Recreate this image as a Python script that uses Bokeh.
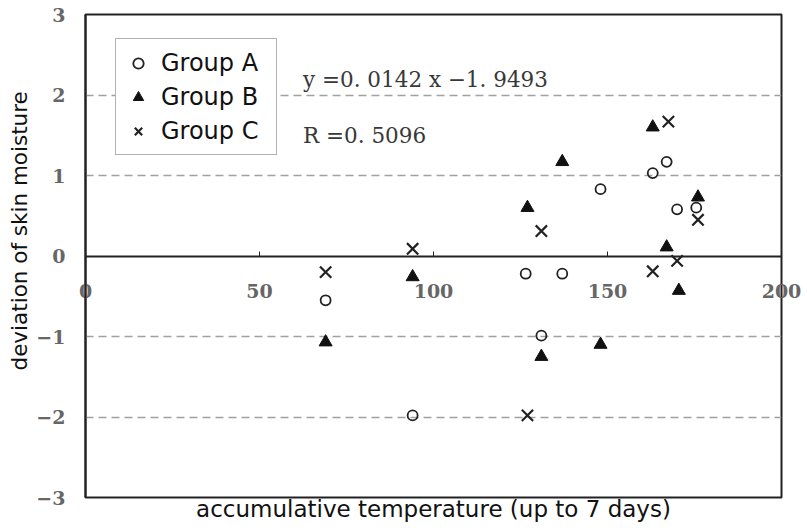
from bokeh.plotting import figure
from bokeh.models import (Range1d, Legend, LegendItem, Label, Title, FixedTicker,
                          LinearAxis)
from bokeh.embed import file_html
from bokeh.resources import INLINE

# ---- data ----
a_x = [69, 94, 126.5, 131, 137, 148, 163, 167, 170, 175.5]
a_y = [-0.55, -1.98, -0.22, -0.99, -0.22, 0.83, 1.03, 1.17, 0.58, 0.60]
b_x = [69, 94, 127, 131, 137, 148, 163, 167, 170.5, 176]
b_y = [-1.07, -0.26, 0.60, -1.25, 1.17, -1.10, 1.60, 0.11, -0.43, 0.73]
c_x = [69, 94, 127, 131, 163, 167.5, 170, 176]
c_y = [-0.20, 0.09, -1.98, 0.31, -0.19, 1.67, -0.06, 0.45]

series_names = ["Group A", "Group B", "Group C"]
x_ticks = [0, 50, 100, 150, 200]
y_ticks = [-3, -2, -1, 0, 1, 2, 3]
grid_ticks = [-2, -1, 1, 2]
equation_text = "y =0. 0142 x \u22121. 9493"
r_text = "R =0. 5096"
x_title = "accumulative temperature (up to 7 days)"
y_title = "deviation of skin moisture"

TICK_FONT = "DejaVu Serif"
TICK_COLOR = "#666666"

p = figure(frame_width=696, frame_height=483, output_backend="svg", toolbar_location=None,
           x_range=Range1d(0, 200), y_range=Range1d(-3, 3),
           min_border_left=85, min_border_right=20, min_border_top=14, min_border_bottom=30)
p.background_fill_color = "white"
p.border_fill_color = "white"
p.outline_line_color = "#222222"
p.outline_line_width = 2

# zero line with inward ticks (x axis fixed at y = 0)
xa = p.xaxis[0]
xa.fixed_location = 0
xa.ticker = FixedTicker(ticks=x_ticks)
xa.axis_line_color = "#222222"
xa.axis_line_width = 2
xa.major_tick_in = 5
xa.major_tick_out = 0
xa.major_tick_line_color = "#222222"
xa.minor_tick_line_color = None
xa.major_label_text_color = None
xa.major_label_text_font_size = "1px"

# second x axis in the bottom panel: carries the tick labels (raised into the
# plot just under the zero line) and the axis title
xb = LinearAxis(ticker=FixedTicker(ticks=x_ticks))
xb.axis_line_color = None
xb.major_tick_line_color = None
xb.minor_tick_line_color = None
xb.major_tick_in = 0
xb.major_tick_out = 0
xb.major_label_standoff = -214
xb.major_label_text_font = TICK_FONT
xb.major_label_text_font_style = "bold"
xb.major_label_text_font_size = "19px"
xb.major_label_text_color = TICK_COLOR
xb.axis_label = x_title
xb.axis_label_text_font = "DejaVu Sans"
xb.axis_label_text_font_style = "normal"
xb.axis_label_text_font_size = "23px"
xb.axis_label_text_color = "#111111"
xb.axis_label_standoff = 195
p.add_layout(xb, "below")

ya = p.yaxis[0]
ya.ticker = FixedTicker(ticks=y_ticks)
ya.axis_line_color = "#222222"
ya.axis_line_width = 2
ya.major_tick_in = 0
ya.major_tick_out = 0
ya.minor_tick_line_color = None
ya.major_label_standoff = 20
ya.major_label_text_font = TICK_FONT
ya.major_label_text_font_style = "bold"
ya.major_label_text_font_size = "19px"
ya.major_label_text_color = TICK_COLOR

p.xgrid.visible = False
p.ygrid.ticker = FixedTicker(ticks=grid_ticks)
p.ygrid.grid_line_color = "#a0a0a0"
p.ygrid.grid_line_dash = "8 5"
p.ygrid.grid_line_width = 1.5

ra = p.scatter(a_x, a_y, marker="circle", size=10, fill_color=None,
               line_color="#222222", line_width=1.8)
rb = p.scatter(b_x, b_y, marker="triangle", size=13, fill_color="#111111",
               line_color="#111111", line_width=1)
rc = p.scatter(c_x, c_y, marker="x", size=16, line_color="#222222", line_width=2.2)

legend = Legend(items=[LegendItem(label=series_names[0], renderers=[ra]),
                       LegendItem(label=series_names[1], renderers=[rb]),
                       LegendItem(label=series_names[2], renderers=[rc])],
                location=(30, 342), orientation="vertical",
                label_text_font="DejaVu Sans", label_text_font_size="24px",
                label_text_color="#111111", label_height=29, label_width=106,
                glyph_height=26, glyph_width=26, label_standoff=10, spacing=5,
                padding=9, margin=0, border_line_color="#666666", border_line_width=1,
                background_fill_color="white", background_fill_alpha=1)
p.add_layout(legend)

p.add_layout(Label(x=62.5, y=2.19, text=equation_text, text_font="DejaVu Serif",
                   text_font_size="21.5px", text_color="#383838",
                   text_baseline="alphabetic"))
p.add_layout(Label(x=62.5, y=1.50, text=r_text, text_font="DejaVu Serif",
                   text_font_size="21.5px", text_color="#383838",
                   text_baseline="alphabetic"))

p.add_layout(Title(text=y_title, align="left", offset=127, text_font="DejaVu Sans",
                   text_font_size="21.5px", text_font_style="normal",
                   text_color="#111111", standoff=1, vertical_align="middle"),
             "left")

open("out.html", "w").write(file_html(p, INLINE))
